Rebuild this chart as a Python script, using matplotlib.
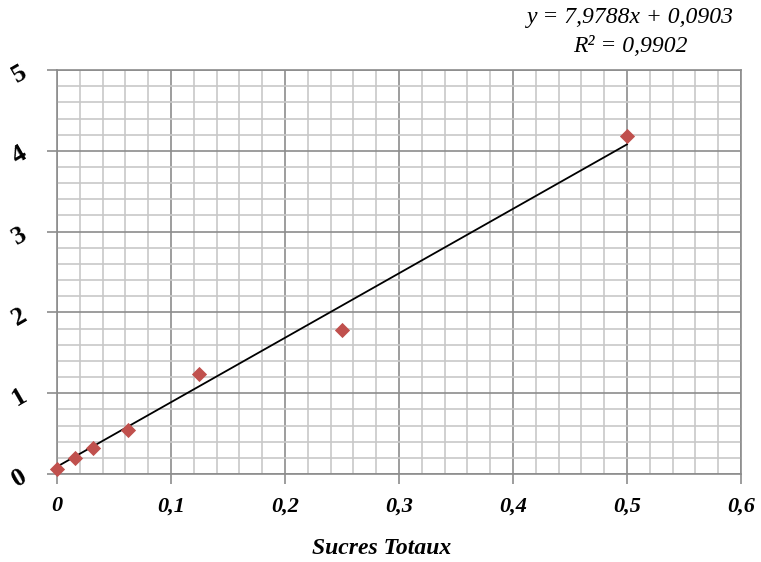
import matplotlib.pyplot as plt
import numpy as np
from matplotlib.ticker import MultipleLocator, FuncFormatter

# Sucres totaux: concentration vs absorbance
conc = [0.0, 0.0156, 0.0313, 0.0625, 0.125, 0.25, 0.5]
absorb = [0.06, 0.20, 0.32, 0.55, 1.24, 1.78, 4.18]
slope, intercept = 7.9788, 0.0903
r2 = 0.9902

serif = ['Liberation Serif', 'DejaVu Serif']

fig = plt.figure(figsize=(7.61, 5.62), dpi=100)
ax = fig.add_axes([0.0749, 0.1566, 0.8988, 0.7188])

ax.set_xlim(0, 0.6)
ax.set_ylim(0, 5)
ax.xaxis.set_major_locator(MultipleLocator(0.1))
ax.xaxis.set_minor_locator(MultipleLocator(0.02))
ax.yaxis.set_major_locator(MultipleLocator(1))
ax.yaxis.set_minor_locator(MultipleLocator(0.2))

ax.grid(which='minor', color='#c8c8c8', lw=1.2)
ax.grid(which='major', color='#8c8c8c', lw=1.2)
ax.set_axisbelow(True)
for s in ax.spines.values():
    s.set_color('#8c8c8c')
    s.set_linewidth(1.2)

ax.tick_params(which='minor', length=0)
ax.tick_params(which='major', length=7, color='#8c8c8c', width=1.2)
ax.tick_params(axis='x', pad=9, labelsize=16)
ax.tick_params(axis='y', pad=12, labelsize=19, labelrotation=30)

def fr(v, pos):
    s = '%g' % round(v, 2)
    return s.replace('.', ',')

ax.xaxis.set_major_formatter(FuncFormatter(fr))
ax.yaxis.set_major_formatter(FuncFormatter(fr))
for lab in ax.get_xticklabels():
    lab.set_fontfamily(serif)
    lab.set_fontweight('bold')
    lab.set_fontstyle('italic')
for lab in ax.get_yticklabels():
    lab.set_fontfamily(serif)
    lab.set_fontweight('bold')

# linear trend line
xf = np.array([0, conc[-1]])
ax.plot(xf, slope * xf + intercept, color='black', lw=1.3, zorder=3)
ax.scatter(conc, absorb, marker='D', s=60, color='#c0504d', zorder=4,
           clip_on=False, linewidths=0)

fig.text(630 / 761, 1 - 18 / 562, 'y = 7,9788x + 0,0903', ha='center',
         va='center', fontsize=17, fontstyle='italic', family=serif)
fig.text(630 / 761, 1 - 47 / 562, 'R² = 0,9902', ha='center',
         va='center', fontsize=17, fontstyle='italic', family=serif)

fig.text(382 / 761, 1 - 549 / 562, 'Sucres Totaux', ha='center', va='center',
         fontsize=17, fontweight='bold', fontstyle='italic', family=serif)

fig.savefig('out.png', dpi=100)
